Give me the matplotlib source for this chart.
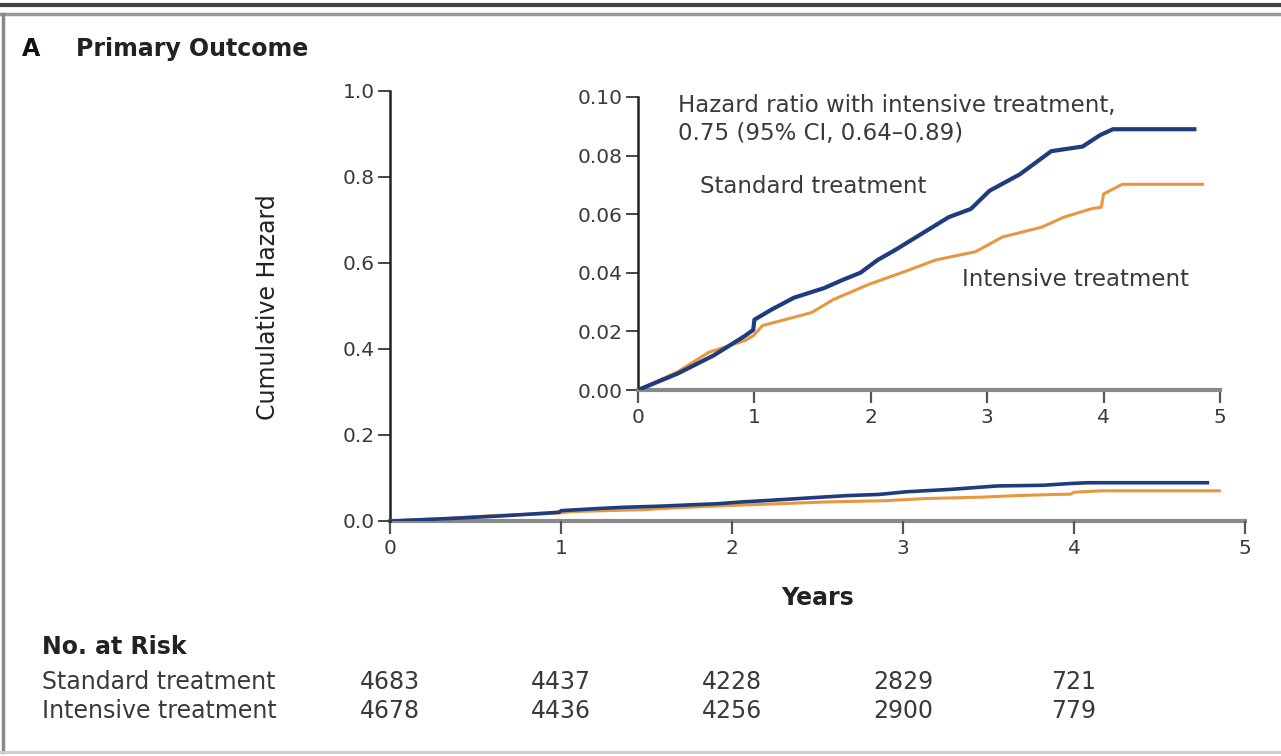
import numpy as np
import matplotlib.pyplot as plt
import matplotlib.transforms as mtransforms
from matplotlib.lines import Line2D

# cumulative hazard (years, hazard)
std_years = [0, 0.34, 0.65, 0.92, 0.99, 1.0, 1.15, 1.34, 1.6, 1.76, 1.91, 2.06, 2.21,
             2.44, 2.67, 2.86, 3.02, 3.28, 3.55, 3.82, 3.97, 4.08, 4.78]
std_hazard = [0, 0.0056, 0.0118, 0.0185, 0.0205, 0.024, 0.0275, 0.0315, 0.0348, 0.0376,
              0.040, 0.0444, 0.0478, 0.0534, 0.059, 0.0618, 0.068, 0.0736, 0.0815, 0.0831,
              0.087, 0.0890, 0.0890]

int_years = [0, 0.34, 0.61, 0.92, 0.99, 1.07, 1.49, 1.68, 1.98, 2.29, 2.56, 2.9, 3.13,
             3.47, 3.66, 3.89, 3.98, 4.0, 4.16, 4.85]
int_hazard = [0, 0.0062, 0.0129, 0.0169, 0.0185, 0.022, 0.0264, 0.0309, 0.036, 0.0404,
              0.0444, 0.0472, 0.0522, 0.0556, 0.059, 0.0618, 0.0624, 0.0669, 0.0702, 0.0702]

risk_years = [0, 1, 2, 3, 4]
risk_standard = [4683, 4437, 4228, 2829, 721]
risk_intensive = [4678, 4436, 4256, 2900, 779]

blue = '#1f3c7e'
orange = '#e8973f'
txt = '#3a3a3a'

plt.rcParams['font.family'] = ['DejaVu Sans']

fig = plt.figure(figsize=(12.81, 7.56), dpi=100)

# frame lines of the figure panel
fig.add_artist(Line2D([0, 1], [1 - 5 / 756, 1 - 5 / 756], color='#444444', lw=3))
fig.add_artist(Line2D([0, 1], [1 - 14 / 756, 1 - 14 / 756], color='#999999', lw=2.5))
fig.add_artist(Line2D([3 / 1281, 3 / 1281], [4 / 756, 1 - 14 / 756], color='#888888', lw=2.5))
fig.add_artist(Line2D([0, 1], [4 / 756, 4 / 756], color='#cccccc', lw=2))


def style_axes(ax):
    for s in ['top', 'right']:
        ax.spines[s].set_visible(False)
    ax.spines['left'].set_color('#222222')
    ax.spines['left'].set_linewidth(1.8)
    ax.spines['bottom'].set_color('#8a8a8a')
    ax.spines['bottom'].set_linewidth(3)
    ax.tick_params(axis='y', direction='out', length=9, width=1.4, color='#444444',
                   labelsize=14.5, labelcolor=txt, pad=2)
    ax.tick_params(axis='x', direction='out', length=9, width=1.6, color='#555555',
                   labelsize=14.5, labelcolor=txt, pad=4)


# main axes
ax = fig.add_axes([390 / 1281, 1 - 521 / 756, (1245 - 390) / 1281, (521 - 91) / 756])
ax.plot(int_years, int_hazard, color=orange, lw=2.2, zorder=3)
ax.plot(std_years, std_hazard, color=blue, lw=2.6, zorder=4)
ax.set_xlim(0, 5)
ax.set_ylim(0, 1.0)
ax.set_xticks([0, 1, 2, 3, 4, 5])
ax.set_yticks([0.0, 0.2, 0.4, 0.6, 0.8, 1.0])
ax.set_yticklabels(['0.0', '0.2', '0.4', '0.6', '0.8', '1.0'])
style_axes(ax)
ax.spines['bottom'].set_zorder(1)
ax.set_xlabel('Years', fontsize=17, fontweight='bold', color='#222222')
ax.xaxis.set_label_coords(0.5, (521 - 598) / 430, transform=ax.transAxes)
ax.xaxis.label.set_va('center')
ax.set_ylabel('Cumulative Hazard', fontsize=17, color='#222222')
ax.yaxis.set_label_coords((268 - 390) / 855, (521 - 307) / 430, transform=ax.transAxes)
ax.yaxis.label.set_va('center')

# inset axes
ins = fig.add_axes([638 / 1281, 1 - 390 / 756, (1220 - 638) / 1281, (390 - 97) / 756])
ins.plot(int_years, int_hazard, color=orange, lw=2.2, zorder=3)
ins.plot(std_years, std_hazard, color=blue, lw=3, zorder=4)
ins.set_xlim(0, 5)
ins.set_ylim(0, 0.10)
ins.set_xticks([0, 1, 2, 3, 4, 5])
ins.set_yticks([0.0, 0.02, 0.04, 0.06, 0.08, 0.10])
ins.set_yticklabels(['0.00', '0.02', '0.04', '0.06', '0.08', '0.10'])
style_axes(ins)
ins.patch.set_alpha(0)

ins.text(0.069, 1.01, 'Hazard ratio with intensive treatment,\n0.75 (95% CI, 0.64\u20130.89)',
         transform=ins.transAxes, ha='left', va='top', fontsize=16.5, color=txt,
         linespacing=1.3)
ins.text(0.53, 0.0693, 'Standard treatment', ha='left', va='center', fontsize=16.5, color=txt)
ins.text(2.78, 0.0378, 'Intensive treatment', ha='left', va='center', fontsize=16.5, color=txt)

# title
fig.text(22 / 1281, 1 - 49 / 756, 'A', fontsize=17, fontweight='bold', color='#111111', va='center')
fig.text(76 / 1281, 1 - 49 / 756, 'Primary Outcome', fontsize=17, fontweight='bold',
         color='#222222', va='center')

# number at risk table
trans = mtransforms.blended_transform_factory(ax.transData, fig.transFigure)
fig.text(42 / 1281, 1 - 647 / 756, 'No. at Risk', fontsize=17, fontweight='bold',
         color='#222222', va='center')
fig.text(42 / 1281, 1 - 682 / 756, 'Standard treatment', fontsize=17, color=txt, va='center')
fig.text(42 / 1281, 1 - 711 / 756, 'Intensive treatment', fontsize=17, color=txt, va='center')
for yr, s, i in zip(risk_years, risk_standard, risk_intensive):
    ax.text(yr, 1 - 682 / 756, str(s), transform=trans, ha='center', va='center',
            fontsize=17, color=txt)
    ax.text(yr, 1 - 711 / 756, str(i), transform=trans, ha='center', va='center',
            fontsize=17, color=txt)

fig.savefig('out.png', dpi=100)
